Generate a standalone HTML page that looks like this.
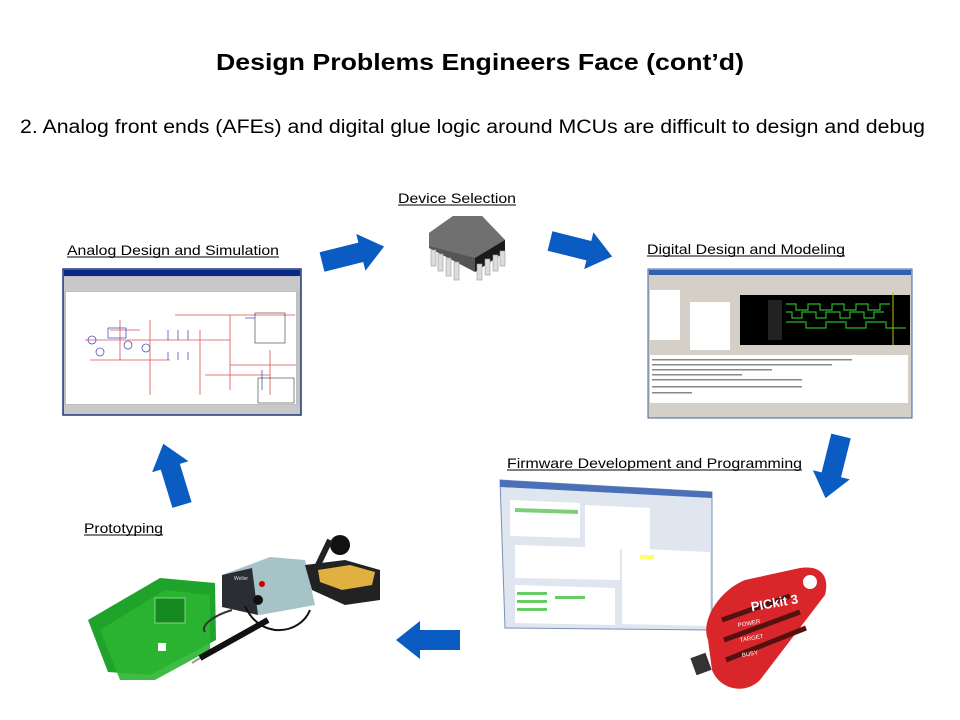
<!DOCTYPE html>
<html><head><meta charset="utf-8"><style>
html,body{margin:0;padding:0;background:#fff;}
svg{display:block;font-family:"Liberation Sans",Arial,sans-serif;}
</style></head><body>
<svg width="960" height="720" viewBox="0 0 960 720" xmlns="http://www.w3.org/2000/svg">
<defs>
<polygon id="arr" points="0,-10 40,-10 40,-19 64,0 40,19 40,10 0,10"/>
</defs>
<rect width="960" height="720" fill="#fff"/>
<text x="480" y="70" text-anchor="middle" font-size="23" font-weight="bold" textLength="528" lengthAdjust="spacingAndGlyphs">Design Problems Engineers Face (cont’d)</text>
<text x="20" y="133" font-size="19" textLength="905" lengthAdjust="spacingAndGlyphs">2. Analog front ends (AFEs) and digital glue logic around MCUs are difficult to design and debug</text>

<g font-size="14">
<text x="398" y="203" textLength="118" lengthAdjust="spacingAndGlyphs">Device Selection</text>
<line x1="398" y1="205" x2="516" y2="205" stroke="#000" stroke-width="1"/>
<text x="67" y="255" textLength="212" lengthAdjust="spacingAndGlyphs">Analog Design and Simulation</text>
<line x1="67" y1="257" x2="279" y2="257" stroke="#000"/>
<text x="647" y="254" textLength="198" lengthAdjust="spacingAndGlyphs">Digital Design and Modeling</text>
<line x1="647" y1="256" x2="845" y2="256" stroke="#000"/>
<text x="507" y="468" textLength="295" lengthAdjust="spacingAndGlyphs">Firmware Development and Programming</text>
<line x1="507" y1="470" x2="802" y2="470" stroke="#000"/>
<text x="84" y="533" textLength="79" lengthAdjust="spacingAndGlyphs">Prototyping</text>
<line x1="84" y1="535" x2="163" y2="535" stroke="#000"/>
</g>

<g fill="#0a5cc2">
<use href="#arr" transform="translate(322,262) rotate(-14)"/>
<use href="#arr" transform="translate(550,241) rotate(14)"/>
<use href="#arr" transform="translate(841,436) rotate(104)"/>
<use href="#arr" transform="translate(460,640) rotate(180)"/>
<use href="#arr" transform="translate(182,505) rotate(-107)"/>
</g>

<!-- chip -->
<g>
<polygon points="429,233 453,216 482,216 505,240 505,252 475,272 429,248" fill="#555"/>
<polygon points="429,233 453,216 482,216 505,240 475,258 429,246" fill="#707070"/>
<polygon points="475,258 505,240 505,252 475,272" fill="#1a1a1a"/>
<g fill="#dcdcdc" stroke="#999" stroke-width="0.6">
<rect x="431" y="250" width="5" height="16"/><rect x="438" y="254" width="5" height="17"/><rect x="446" y="258" width="5" height="18"/><rect x="454" y="262" width="5" height="18"/>
<rect x="477" y="264" width="5" height="16"/><rect x="485" y="259" width="5" height="16"/><rect x="493" y="255" width="5" height="16"/><rect x="500" y="251" width="5" height="15"/>
</g>
</g>

<!-- analog window -->
<g>
<rect x="63" y="269" width="238" height="146" fill="#c0c0c0" stroke="#1a3a7a" stroke-width="1.5"/>
<rect x="64" y="270" width="236" height="6" fill="#0a2a8a"/>
<rect x="64" y="277" width="236" height="14" fill="#c8c8c8"/>
<rect x="66" y="292" width="230" height="112" fill="#fff"/>
<g stroke="#e05050" stroke-width="0.8" fill="none">
<path d="M85,340 H150 M150,320 V395 M150,340 H230 M175,315 H295 M200,330 V395 M230,315 V390 M230,365 H296 M205,375 H270 M270,350 V395 M90,360 H170 M120,320 V360 M110,330 H140"/>
</g>
<g stroke="#5050c0" stroke-width="0.8" fill="none">
<circle cx="92" cy="340" r="4"/><circle cx="100" cy="352" r="4"/><circle cx="128" cy="345" r="4"/><circle cx="146" cy="348" r="4"/>
<rect x="108" y="328" width="18" height="10"/>
<path d="M168,330 v10 M178,330 v10 M188,330 v10 M168,352 v8 M178,352 v8 M188,352 v8 M245,318 h10 M262,370 v20"/>
</g>
<rect x="255" y="313" width="30" height="30" fill="none" stroke="#333" stroke-width="0.6"/>
<rect x="258" y="378" width="36" height="25" fill="none" stroke="#333" stroke-width="0.6"/>
<rect x="64" y="405" width="236" height="9" fill="#c8c8c8"/>
</g>

<!-- digital window -->
<g>
<rect x="648" y="269" width="264" height="149" fill="#d4d0c8" stroke="#4060a0"/>
<rect x="649" y="270" width="262" height="5" fill="#3060b0"/>
<rect x="650" y="290" width="30" height="50" fill="#fff"/>
<rect x="690" y="302" width="40" height="48" fill="#fff"/>
<rect x="740" y="295" width="170" height="50" fill="#000"/>
<rect x="768" y="300" width="14" height="40" fill="#222"/>
<g stroke="#2ab52a" stroke-width="1.2" fill="none">
<path d="M786,304 h10 v6 h12 v-6 h12 v6 h12 v-6 h12 v6 h12 v-6 h12 v6 h12 v-6 h10"/>
<path d="M786,312 h6 v6 h10 v-6 h14 v6 h10 v-6 h14 v6 h10 v-6 h14 v6 h10 v-6 h10"/>
<path d="M786,322 h20 v6 h20 v-6 h20 v6 h20 v-6 h20 v6 h20"/>
</g>
<line x1="893" y1="292" x2="893" y2="345" stroke="#c0c000"/>
<rect x="650" y="355" width="258" height="48" fill="#fff"/>
<g fill="#888"><rect x="652" y="359" width="200" height="1.5"/><rect x="652" y="364" width="180" height="1.5"/><rect x="652" y="369" width="120" height="1.5"/><rect x="652" y="374" width="90" height="1.5"/><rect x="652" y="379" width="150" height="1.5"/><rect x="652" y="386" width="150" height="1.5"/><rect x="652" y="392" width="40" height="1.5"/></g>
</g>

<!-- firmware window -->
<g>
<polygon points="500,480 712,492 712,630 505,628" fill="#dfe6f0" stroke="#7a90b8"/>
<polygon points="500,480 712,492 712,498 500,487" fill="#4a70b8"/>
<polygon points="510,500 580,503 580,538 510,536" fill="#fff"/>
<polygon points="515,508 578,510 578,514 515,512" fill="#7ad07a"/>
<polygon points="585,505 650,508 650,550 585,548" fill="#fff"/>
<polygon points="515,545 620,548 620,580 515,578" fill="#fff"/>
<polygon points="515,585 615,588 615,625 515,623" fill="#fff"/>
<g fill="#66cc66"><rect x="517" y="592" width="30" height="3"/><rect x="517" y="600" width="30" height="3"/><rect x="517" y="608" width="30" height="3"/><rect x="555" y="596" width="30" height="3"/></g>
<polygon points="622,548 710,552 710,626 622,624" fill="#fff"/>
<rect x="640" y="555" width="14" height="4" fill="#ffff66"/>
</g>

<!-- pickit -->
<g>
<path d="M708,640 C700,620 720,590 745,580 L800,568 C820,565 830,575 825,595 L760,680 C745,695 720,690 712,670 Z" fill="#d8262a"/>
<path d="M722,620 L790,596 M724,640 L800,612 M726,660 L806,628" stroke="#551010" stroke-width="5"/>
<rect x="693" y="655" width="16" height="18" fill="#333" transform="rotate(-20 701 664)"/>
<text x="750" y="608" font-size="13" font-weight="bold" fill="#fff" transform="rotate(-10 770 600)">PICkit 3</text>
<circle cx="810" cy="582" r="7" fill="#fff"/>
<text x="738" y="625" font-size="6" fill="#fff" transform="rotate(-10 750 625)">POWER</text>
<text x="740" y="640" font-size="6" fill="#fff" transform="rotate(-10 752 640)">TARGET</text>
<text x="742" y="655" font-size="6" fill="#fff" transform="rotate(-10 754 655)">BUSY</text>
</g>

<!-- prototyping -->
<g>
<polygon points="88,620 160,578 215,583 216,640 150,675 108,672" fill="#1fa32a"/>
<polygon points="100,630 165,590 210,595 210,650 155,680 120,680" fill="#2bb532" opacity="0.9"/>
<rect x="155" y="598" width="30" height="25" fill="#158a1e" stroke="#a0e0a0" stroke-width="0.8"/>
<rect x="158" y="643" width="8" height="8" fill="#fff"/>
<polygon points="222,575 270,557 305,560 315,605 260,615 222,607" fill="#a6c4c8"/>
<polygon points="222,575 252,568 258,615 222,607" fill="#2a2e33"/>
<text x="234" y="580" font-size="5" fill="#ddd">Weller</text>
<circle cx="262" cy="584" r="3" fill="#c00"/>
<circle cx="258" cy="600" r="5" fill="#111"/>
<polygon points="305,565 345,560 380,570 380,600 345,605 312,590" fill="#222"/>
<polygon points="318,570 350,565 375,572 372,585 342,590 320,582" fill="#e0b040"/>
<circle cx="340" cy="545" r="10" fill="#111"/>
<path d="M330,540 L318,565" stroke="#222" stroke-width="6"/>
<path d="M245,606 C260,640 300,635 310,610" stroke="#111" stroke-width="2" fill="none"/>
<path d="M268,620 L200,658" stroke="#111" stroke-width="6"/>
<path d="M200,658 L192,663" stroke="#999" stroke-width="2"/>
<path d="M232,610 C215,615 200,625 205,632" stroke="#333" stroke-width="2" fill="none"/>
</g>
</svg>
</body></html>
